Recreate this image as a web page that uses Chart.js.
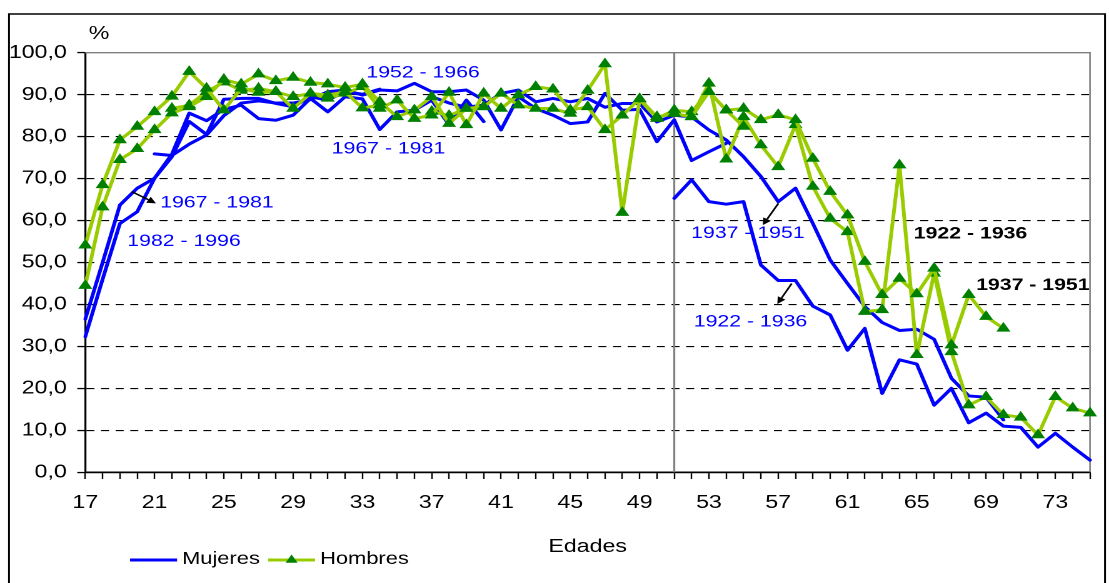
<!DOCTYPE html>
<html lang="es">
<head>
<meta charset="UTF-8">
<title>Edades</title>
<script src="https://cdn.jsdelivr.net/npm/chart.js"></script>
<style>
  body { margin: 0; background: #fff; overflow: hidden; }
  /* el original está estirado en horizontal: se dibuja a 887px y se estira */
  #wrap { position: relative; width: 887px; height: 583px; transform: scaleX(1.2503); transform-origin: 0 0; }
</style>
</head>
<body>
<div id="wrap"><canvas id="grafico" width="887" height="583"></canvas></div>

<script>
  // categorías (edades)
  const edades = ['17','18','19','20','21','22','23','24','25','26','27','28','29','30','31','32','33','34','35','36',
    '37','38','39','40','41','42','43','44','45','46','47','48','49','50','51','52','53','54','55','56',
    '57','58','59','60','61','62','63','64','65','66','67','68','69','70','71','72','73','74','75'];
  const etiquetasEdad = ['17','21','25','29','33','37','41','45','49','53','57','61','65','69','73'];
  const edadCorte = '51';

  // Mujeres (cohortes), valor inicial en la edad indicada
  const mujeres1982Inicio = 17;
  const mujeres1982 = [32.3, 46.0, 59.3, 62.1, 70.1, 75.2, 83.6, 80.5, 88.9, 89.1, 89.1, 87.9, 87.1, 89.5, 88.7, 90.7, 90.1, 91.3];
  const mujeres1967Inicio = 17;
  const mujeres1967 = [36.5, 50.0, 63.7, 67.7, 70.1, 75.8, 85.6, 83.8, 86.5, 87.5, 84.3, 83.9, 85.1, 89.1, 85.9, 89.5,
    89.0, 81.7, 85.9, 86.3, 88.7, 82.8, 88.7, 83.6];
  const mujeres1952Inicio = 21;
  const mujeres1952 = [75.9, 75.5, 78.2, 80.4, 85.0, 88.0, 88.5, 88.0, 88.0, 88.8, 90.7, 91.1, 89.9, 91.1, 90.9, 92.7,
    90.7, 90.7, 91.1, 88.7, 81.6, 89.5, 86.7, 85.1, 83.1, 83.5, 90.3, 86.3, 86.5, 78.8, 84.0, 74.3, 76.4, 78.4];
  const mujeres1937Inicio = 37;
  const mujeres1937 = [89.5, 88.0, 87.0, 87.5, 90.3, 91.1, 88.3, 89.1, 88.3, 89.1, 87.0, 87.9, 87.9, 83.5, 85.1, 84.7,
    81.6, 79.2, 75.2, 70.5, 64.5, 67.7, 59.3, 50.6, 45.0, 39.5, 35.7, 33.8, 34.1, 31.7, 22.4, 18.2, 17.9, 12.5];
  const mujeres1922Inicio = 51;
  const mujeres1922 = [65.3, 69.7, 64.5, 63.9, 64.5, 49.4, 45.7, 45.7, 39.6, 37.5, 29.1, 34.3, 18.8, 26.8, 25.8, 16.0,
    20.0, 11.8, 14.1, 11.0, 10.7, 6.0, 9.3, 6.0, 2.9];

  // Hombres (cohortes)
  const hombres1982Inicio = 17;
  const hombres1982 = [54.1, 68.5, 79.2, 82.4, 85.9, 89.6, 95.5, 91.5, 86.3, 91.5, 90.5, 90.7, 86.7, 90.3, 89.9, 90.7, 86.8, 87.5];
  const hombres1967Inicio = 17;
  const hombres1967 = [44.5, 63.2, 74.5, 77.1, 81.6, 85.6, 87.1, 89.5, 93.6, 92.5, 94.9, 93.3, 94.1, 92.9, 92.5, 91.7,
    92.5, 88.3, 84.7, 86.3, 89.5, 83.1, 86.7, 87.1];
  const hombres1952Inicio = 22;
  const hombres1952 = [86.7, 87.5, 90.7, 93.0, 91.0, 91.5, 90.7, 89.5, 90.3, 89.1, 90.3, 91.9, 86.7, 88.7, 84.3, 85.1,
    90.5, 82.8, 90.3, 86.7, 89.9, 91.9, 91.3, 86.3, 87.1, 81.6, 85.1, 89.0, 84.7, 85.5, 84.7, 90.7, 86.3, 82.4];
  const hombres1937Inicio = 37;
  const hombres1937 = [86.0, 85.0, 86.7, 87.1, 90.3, 87.5, 86.7, 86.7, 85.5, 91.0, 97.3, 61.9, 88.9, 84.3, 86.3, 85.9,
    90.7, 86.3, 86.7, 84.0, 85.2, 84.0, 74.8, 66.9, 61.3, 50.2, 42.3, 46.2, 42.5, 48.6, 30.3, 42.3, 37.1, 34.3];
  const hombres1922Inicio = 51;
  const hombres1922 = [85.5, 84.7, 92.7, 74.6, 84.7, 78.0, 72.8, 82.8, 68.1, 60.5, 57.3, 38.3, 38.7, 73.2, 28.0, 47.4,
    28.7, 16.0, 18.0, 13.7, 13.1, 8.9, 18.0, 15.3, 14.1];

  // textos sobre el gráfico (edad, valor)
  const notas = [
    { texto: '1952 - 1966', edad: 36.5, valor: 95.2, color: '#0000ff', negrita: false },
    { texto: '1967 - 1981', edad: 34.5, valor: 77.1, color: '#0000ff', negrita: false },
    { texto: '1967 - 1981', edad: 24.6, valor: 64.2, color: '#0000ff', negrita: false },
    { texto: '1982 - 1996', edad: 22.7, valor: 55.1, color: '#0000ff', negrita: false },
    { texto: '1937 - 1951', edad: 55.25, valor: 57.0, color: '#0000ff', negrita: false },
    { texto: '1922 - 1936', edad: 55.4, valor: 35.9, color: '#0000ff', negrita: false },
    { texto: '1922 - 1936', edad: 68.1, valor: 56.8, color: '#000000', negrita: true },
    { texto: '1937 - 1951', edad: 71.7, valor: 44.6, color: '#000000', negrita: true }
  ];
  const flechas = [
    { desde: [19.68, 66.9], hasta: [21.08, 64.1] },
    { desde: [57.01, 64.1], hasta: [56.11, 58.9] },
    { desde: [57.78, 45.0], hasta: [56.95, 40.1] }
  ];

  const AZUL = '#0000ff';
  const VERDE = '#99cc00';
  const VERDE_OSCURO = '#008000';
  const FUENTE = '"Liberation Sans", Arial, sans-serif';

  function serie(inicio, valores) {
    const out = edades.map(() => null);
    const i0 = edades.indexOf(String(inicio));
    valores.forEach((v, i) => { out[i0 + i] = v; });
    return out;
  }

  const lineaMujer = (label, inicio, valores) => ({
    label, data: serie(inicio, valores),
    borderColor: AZUL, backgroundColor: AZUL, borderWidth: 3,
    pointRadius: 0, borderJoinStyle: 'round', borderCapStyle: 'round', order: 2
  });
  const lineaHombre = (label, inicio, valores) => ({
    label, data: serie(inicio, valores),
    borderColor: VERDE, backgroundColor: VERDE_OSCURO, borderWidth: 3,
    pointStyle: 'triangle', pointRadius: 5.5, pointBackgroundColor: VERDE_OSCURO,
    pointBorderColor: VERDE_OSCURO, pointBorderWidth: 1, borderJoinStyle: 'round', order: 1
  });

  const extras = {
    id: 'extras',
    beforeDatasetsDraw(chart) {
      const { ctx, chartArea: a, scales: { x } } = chart;
      ctx.save();
      ctx.strokeStyle = '#808080';
      ctx.lineWidth = 1.3;
      ctx.beginPath();
      ctx.moveTo(a.left, a.top); ctx.lineTo(a.right, a.top); ctx.lineTo(a.right, a.bottom);
      ctx.stroke();
      const xd = x.getPixelForValue(edades.indexOf(edadCorte));
      ctx.lineWidth = 1.6;
      ctx.beginPath(); ctx.moveTo(xd, a.top); ctx.lineTo(xd, a.bottom); ctx.stroke();
      ctx.restore();
    },
    afterDraw(chart) {
      const { ctx, scales: { x, y } } = chart;
      const px = e => x.getPixelForValue(e - 17);
      ctx.save();

      // marco exterior
      ctx.strokeStyle = '#000';
      ctx.lineWidth = 1.5;
      ctx.strokeRect(7.2, 14, 876.6, 620);

      // unidad
      ctx.fillStyle = '#000';
      ctx.font = '18.5px ' + FUENTE;
      ctx.textAlign = 'center';
      ctx.textBaseline = 'middle';
      ctx.fillText('%', 79.2, 34);

      // notas
      notas.forEach(n => {
        ctx.font = (n.negrita ? 'bold ' : '') + '17px ' + FUENTE;
        ctx.fillStyle = n.color;
        ctx.fillText(n.texto, px(n.edad), y.getPixelForValue(n.valor));
      });

      // flechas
      ctx.strokeStyle = '#000';
      ctx.fillStyle = '#000';
      ctx.lineWidth = 1.5;
      flechas.forEach(f => {
        const x1 = px(f.desde[0]), y1 = y.getPixelForValue(f.desde[1]);
        const x2 = px(f.hasta[0]), y2 = y.getPixelForValue(f.hasta[1]);
        const ang = Math.atan2(y2 - y1, x2 - x1);
        const L = 7, W = 3.5;
        const bx = x2 - Math.cos(ang) * L, by = y2 - Math.sin(ang) * L;
        ctx.beginPath(); ctx.moveTo(x1, y1); ctx.lineTo(bx, by); ctx.stroke();
        ctx.beginPath();
        ctx.moveTo(x2, y2);
        ctx.lineTo(bx + Math.sin(ang) * W, by - Math.cos(ang) * W);
        ctx.lineTo(bx - Math.sin(ang) * W, by + Math.cos(ang) * W);
        ctx.closePath(); ctx.fill();
      });

      // leyenda
      const ly = 560;
      ctx.lineWidth = 3;
      ctx.strokeStyle = AZUL;
      ctx.beginPath(); ctx.moveTo(104, ly); ctx.lineTo(141.6, ly); ctx.stroke();
      ctx.strokeStyle = VERDE;
      ctx.beginPath(); ctx.moveTo(214.4, ly); ctx.lineTo(252, ly); ctx.stroke();
      ctx.fillStyle = VERDE_OSCURO;
      const r = 5.5, cx = 233.2;
      ctx.beginPath();
      ctx.moveTo(cx, ly - r);
      ctx.lineTo(cx + r * 0.866, ly + r * 0.5);
      ctx.lineTo(cx - r * 0.866, ly + r * 0.5);
      ctx.closePath(); ctx.fill();
      ctx.fillStyle = '#000';
      ctx.font = '17.5px ' + FUENTE;
      ctx.textAlign = 'left';
      ctx.fillText('Mujeres', 145.6, ly - 1);
      ctx.fillText('Hombres', 256, ly - 1);

      ctx.restore();
    }
  };

  new Chart(document.getElementById('grafico'), {
    type: 'line',
    data: {
      labels: edades,
      datasets: [
        lineaHombre('Hombres 1982-1996', hombres1982Inicio, hombres1982),
        lineaHombre('Hombres 1967-1981', hombres1967Inicio, hombres1967),
        lineaHombre('Hombres 1952-1966', hombres1952Inicio, hombres1952),
        lineaHombre('Hombres 1937-1951', hombres1937Inicio, hombres1937),
        lineaHombre('Hombres 1922-1936', hombres1922Inicio, hombres1922),
        lineaMujer('Mujeres 1982-1996', mujeres1982Inicio, mujeres1982),
        lineaMujer('Mujeres 1967-1981', mujeres1967Inicio, mujeres1967),
        lineaMujer('Mujeres 1952-1966', mujeres1952Inicio, mujeres1952),
        lineaMujer('Mujeres 1937-1951', mujeres1937Inicio, mujeres1937),
        lineaMujer('Mujeres 1922-1936', mujeres1922Inicio, mujeres1922)
      ]
    },
    options: {
      responsive: false,
      devicePixelRatio: 2,
      animation: false,
      spanGaps: false,
      layout: { padding: { left: 0, right: 15.2, top: 52.7, bottom: 0 } },
      plugins: {
        legend: { display: false },
        tooltip: { enabled: false }
      },
      scales: {
        x: {
          type: 'category',
          offset: false,
          grid: { drawOnChartArea: false, drawTicks: true, tickLength: 6.7, tickColor: '#000', tickWidth: 1.2 },
          border: { display: true, color: '#000', width: 1.7 },
          ticks: {
            autoSkip: false, maxRotation: 0, padding: 13, color: '#000',
            font: { family: FUENTE, size: 18.5 },
            callback: function (v) {
              const lab = this.getLabelForValue(v);
              return etiquetasEdad.includes(lab) ? lab : '';
            }
          },
          title: {
            display: true, text: 'Edades', color: '#000',
            font: { family: FUENTE, size: 18.5 },
            padding: { top: 8.7, bottom: 24.9 }
          }
        },
        y: {
          min: 0, max: 100,
          afterFit: s => { s.width = 68.2; },
          grid: {
            color: c => (c.tick && (c.tick.value === 0 || c.tick.value === 100)) ? 'rgba(0,0,0,0)' : '#000',
            lineWidth: 1.1, tickLength: 6.4, tickColor: '#000', tickWidth: 1.3
          },
          border: { display: true, color: '#000', width: 1.6, dash: [6.4, 5.3] },
          ticks: {
            stepSize: 10, padding: 8.4, color: '#000',
            font: { family: FUENTE, size: 18.5 },
            callback: v => v.toFixed(1).replace('.', ',')
          }
        }
      }
    },
    plugins: [extras]
  });
</script>
</body>
</html>
